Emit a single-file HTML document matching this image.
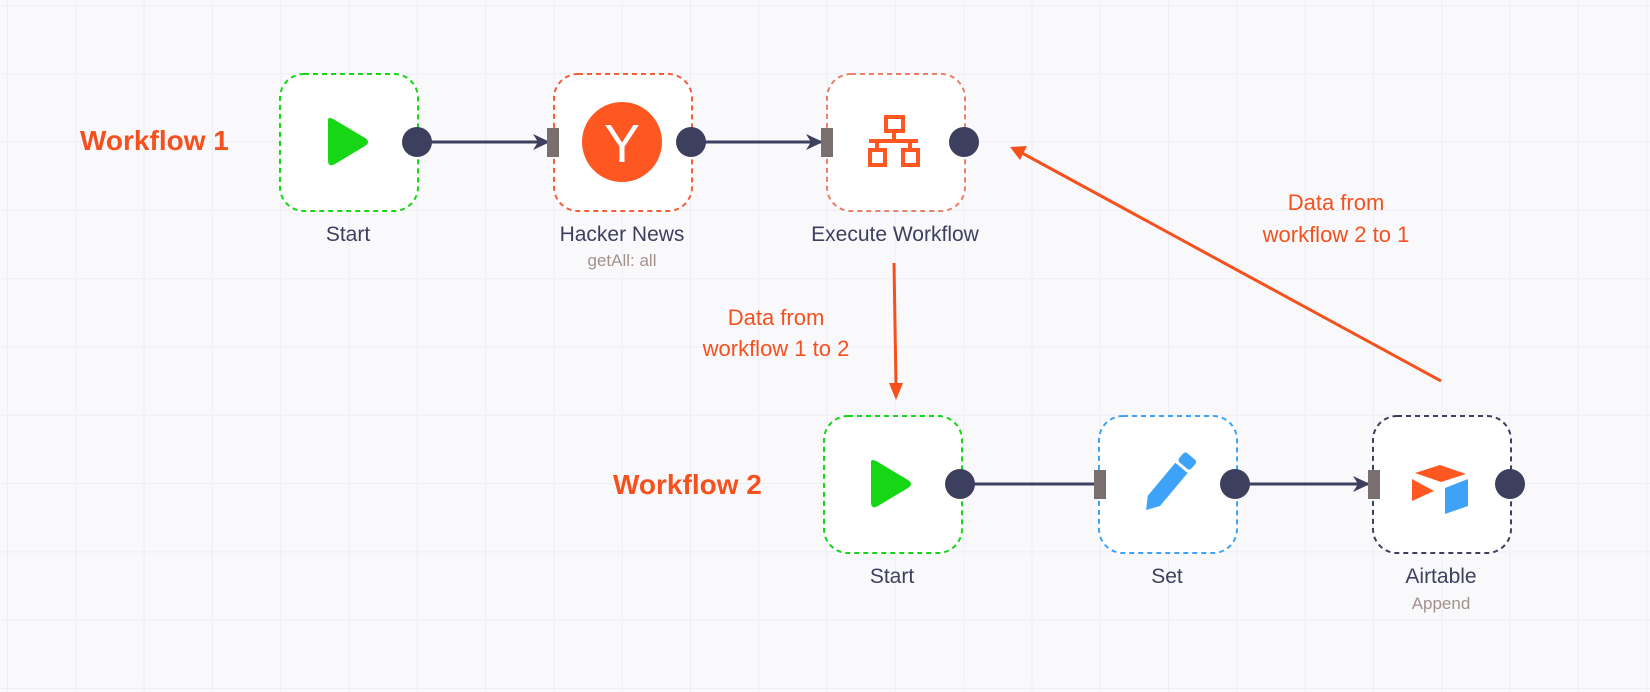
<!DOCTYPE html>
<html><head><meta charset="utf-8"><style>
html,body{margin:0;padding:0}
body{width:1650px;height:692px;overflow:hidden;background-color:#f9f9fc;
background-image:linear-gradient(#eeeef4 1px,transparent 1px),linear-gradient(90deg,#eeeef4 1px,transparent 1px);
background-size:68.3px 68.3px;background-position:7px 5px;font-family:"Liberation Sans",sans-serif;position:relative}
</style></head><body>
<svg width="1650" height="692" style="position:absolute;left:0;top:0" font-family="Liberation Sans, sans-serif">
<defs>
<marker id="ad" markerWidth="18" markerHeight="18" refX="16" refY="9" orient="auto" markerUnits="userSpaceOnUse"><path d="M0,1 L17,9 L0,17 L5,9z" fill="#3d3f5e"/></marker>
</defs>
<text x="80" y="150" font-size="28" font-weight="bold" fill="#f4511e">Workflow 1</text>
<text x="613" y="494" font-size="28" font-weight="bold" fill="#f4511e">Workflow 2</text>
<g fill="#fff" stroke-width="2" stroke-dasharray="5,4">
<rect x="280" y="74" width="138" height="137" rx="24" stroke="#16d616"/>
<rect x="554" y="74" width="138" height="137" rx="24" stroke="#f0603a"/>
<rect x="827" y="74" width="138" height="137" rx="24" stroke="#e8806a"/>
<rect x="824" y="416" width="138" height="137" rx="24" stroke="#16d616"/>
<rect x="1099" y="416" width="138" height="137" rx="24" stroke="#3ea3f8"/>
<rect x="1373" y="416" width="138" height="137" rx="24" stroke="#3d3f5e"/>
</g>
<g stroke="#3d3f5e" stroke-width="3">
<line x1="418" y1="142" x2="549" y2="142" marker-end="url(#ad)"/>
<line x1="692" y1="142" x2="822" y2="142" marker-end="url(#ad)"/>
<line x1="962" y1="484" x2="1096" y2="484"/>
<line x1="1237" y1="484" x2="1369" y2="484" marker-end="url(#ad)"/>
</g>
<g fill="#3d3f5e">
<circle cx="417" cy="142" r="15"/><circle cx="691" cy="142" r="15"/><circle cx="964" cy="142" r="15"/>
<circle cx="960" cy="484" r="15"/><circle cx="1235" cy="484" r="15"/><circle cx="1510" cy="484" r="15"/>
<rect x="547" y="128" width="12" height="29" fill="#7a6f6f"/>
<rect x="821" y="128" width="12" height="29" fill="#7a6f6f"/>
<rect x="1094" y="470" width="12" height="29" fill="#7a6f6f"/>
<rect x="1368" y="470" width="12" height="29" fill="#7a6f6f"/>
</g>
<path d="M328,120 L328,160 Q328,168 335,164 L365,146 Q371,142 365,138 L335,120 Q328,116 328,120z" fill="#16d616"/>
<path d="M871,462 L871,502 Q871,510 878,506 L908,488 Q914,484 908,480 L878,462 Q871,458 871,462z" fill="#16d616"/>
<circle cx="622" cy="142" r="40" fill="#ff5722"/>
<text x="622" y="162" font-size="54" fill="#fff" text-anchor="middle">Y</text>
<g fill="none" stroke="#ff5722" stroke-width="4">
<rect x="886" y="117" width="17" height="14"/>
<path d="M894,131 V141 M869,141 H918 M877,141 V150 M910,141 V150"/>
<rect x="870" y="150" width="15" height="15"/><rect x="903" y="150" width="15" height="15"/>
</g>
<g transform="translate(1168,484) rotate(40)">
<rect x="-8" y="-36" width="16" height="12" rx="3" fill="#3ea3f8"/>
<path d="M-8,-21 H8 V22 L0,34 L-8,22z" fill="#3ea3f8"/>
</g>
<path d="M1415,473 L1440,465 L1466,474 L1441,482z" fill="#ff5722"/>
<path d="M1412,479 L1434,491 L1412,501z" fill="#ff5722"/>
<path d="M1445,488 L1468,479 L1468,506 L1445,514z" fill="#3ea3f8"/>
<g font-size="21" fill="#3d3f5e" text-anchor="middle">
<text x="348" y="241">Start</text>
<text x="622" y="241">Hacker News</text>
<text x="895" y="241">Execute Workflow</text>
<text x="892" y="583">Start</text>
<text x="1167" y="583">Set</text>
<text x="1441" y="583">Airtable</text>
</g>
<g font-size="17" fill="#a3918a" text-anchor="middle">
<text x="622" y="266">getAll: all</text>
<text x="1441" y="609">Append</text>
</g>
<g stroke="#f4511e" stroke-width="3" fill="#f4511e">
<line x1="894" y1="263" x2="896" y2="385"/>
<path d="M889,383 L903,383 L896,400z" stroke="none"/>
<line x1="1441" y1="381" x2="1022" y2="153"/>
<path d="M1010,147 L1027,146 L1020,160z" stroke="none"/>
</g>
<g font-size="22" fill="#f4511e" text-anchor="middle">
<text x="776" y="325">Data from</text>
<text x="776" y="356">workflow 1 to 2</text>
<text x="1336" y="210">Data from</text>
<text x="1336" y="242">workflow 2 to 1</text>
</g>
</svg>
</body></html>
